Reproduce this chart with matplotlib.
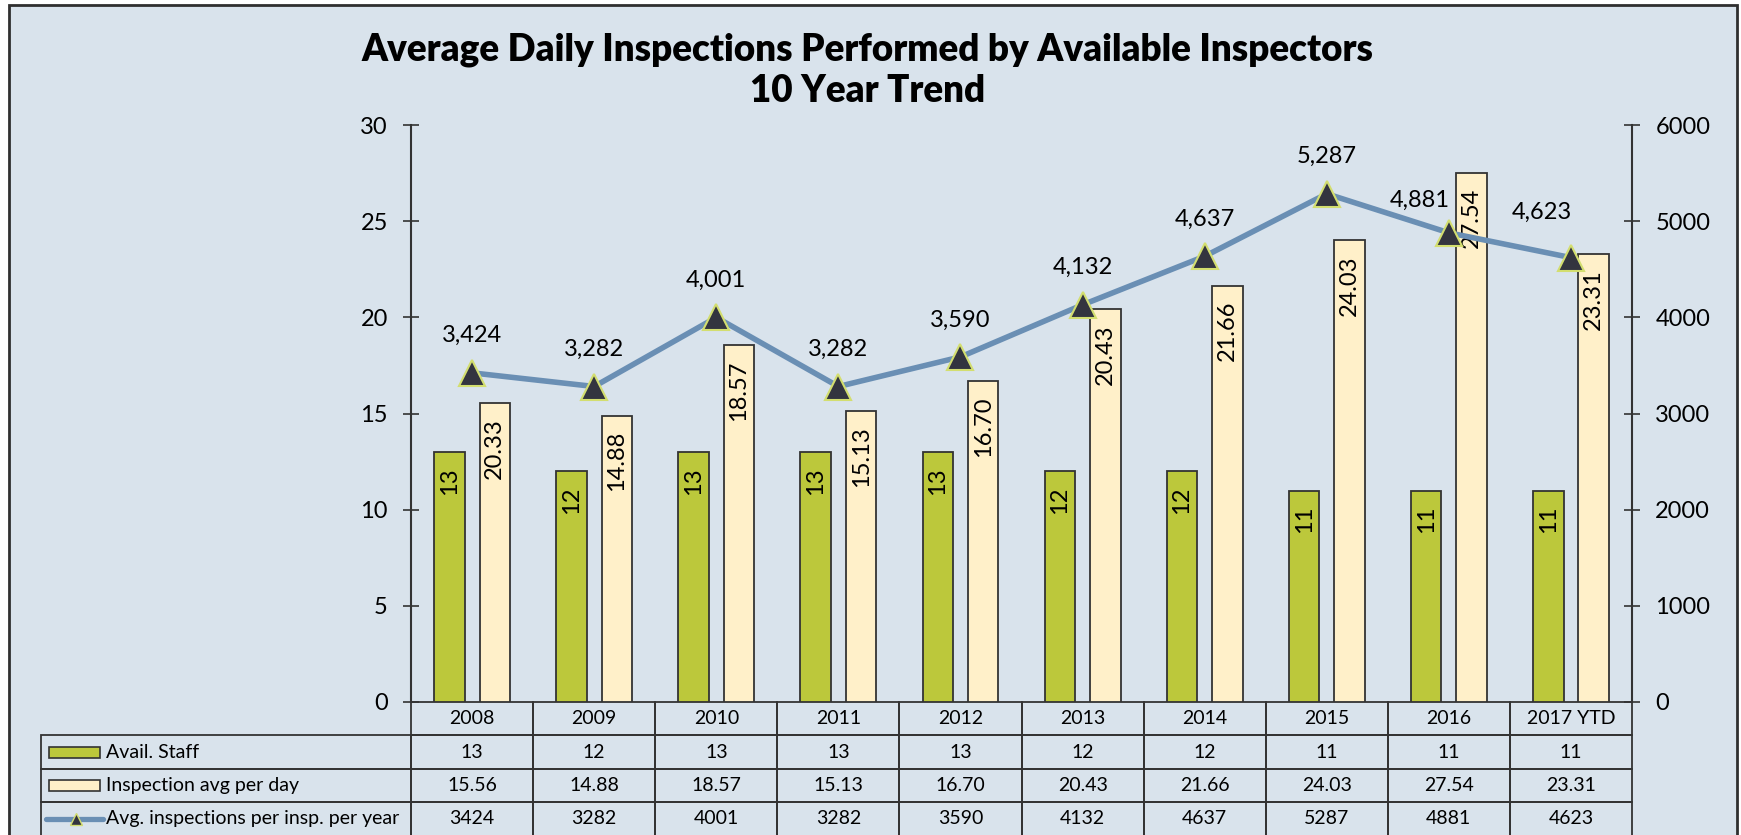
import numpy as np
import matplotlib.pyplot as plt
from matplotlib.patches import Rectangle
from matplotlib.lines import Line2D

plt.rcParams['font.family'] = ['Lato', 'DejaVu Sans']

years = ['2008', '2009', '2010', '2011', '2012', '2013', '2014', '2015', '2016', '2017 YTD']
staff = [13, 12, 13, 13, 13, 12, 12, 11, 11, 11]
per_day = [15.56, 14.88, 18.57, 15.13, 16.70, 20.43, 21.66, 24.03, 27.54, 23.31]
per_day_labels = [20.33, 14.88, 18.57, 15.13, 16.70, 20.43, 21.66, 24.03, 27.54, 23.31]  # як надруковано на стовпчиках
per_year = [3424, 3282, 4001, 3282, 3590, 4132, 4637, 5287, 4881, 4623]
label_offsets = [(0, 22)] * 8 + [(-21, 19), (-21, 28)]  # зсув підписів лінії, пт

green = '#BCC83B'
cream = '#FFF0C9'
blue = '#6A8FB4'
dark = '#333333'
x = np.arange(len(years))

fig = plt.figure(figsize=(17.41, 8.35), dpi=100)
fig.add_artist(Rectangle((0.0052, -0.01), 0.9925, 1.004, transform=fig.transFigure,
                         facecolor='#D9E3EC', edgecolor='#2f2f2f', linewidth=2, zorder=-1))

plt.figtext(0.4985, 0.9281, 'Average Daily Inspections Performed by Available Inspectors',
            ha='center', va='baseline', fontsize=26.5, fontweight='heavy')
plt.figtext(0.4985, 0.8778, '10 Year Trend', ha='center', va='baseline', fontsize=26.5, fontweight='heavy')

ax = plt.axes([0.2361, 0.1593, 0.7013, 0.6907], facecolor='none')
plt.bar(x - 0.186, staff, width=0.25, color=green, edgecolor=dark, linewidth=1.3)
plt.bar(x + 0.186, per_day, width=0.25, color=cream, edgecolor=dark, linewidth=1.3)
for xi, s, d, lab in zip(x, staff, per_day, per_day_labels):
    plt.annotate(str(s), (xi - 0.186, s), xytext=(0, -11), textcoords='offset points',
                 ha='center', va='top', rotation=90, fontsize=17)
    plt.annotate(f'{lab:.2f}', (xi + 0.186, d), xytext=(0, -11), textcoords='offset points',
                 ha='center', va='top', rotation=90, fontsize=17)
plt.xlim(-0.5, 9.5)
plt.ylim(0, 30)
plt.yticks(range(0, 31, 5))
plt.xticks([])
plt.tick_params(axis='y', direction='inout', length=11.5, width=1.2, labelsize=17, pad=11, color=dark)
for side in ['top', 'bottom', 'right']:
    ax.spines[side].set_visible(False)
ax.spines['left'].set_color(dark)
ax.spines['left'].set_linewidth(1.5)

# таблиця даних під графіком
rows = [['Avail. Staff'] + [str(v) for v in staff],
        ['Inspection avg per day'] + [f'{v:.2f}' for v in per_day],
        ['Avg. inspections per insp. per year'] + [str(v) for v in per_year]]
row_h = 0.2317 / 4
tab = plt.table(cellText=rows, colLabels=[''] + years, cellLoc='center',
                colWidths=[0.303] + [0.1] * 10, bbox=[-0.303, -0.2317, 1.303, 0.2317])
tab.auto_set_font_size(False)
tab.set_fontsize(14)
for (r, c), cell in tab.get_celld().items():
    cell.set_facecolor('none')
    cell.set_edgecolor(dark)
    cell.set_linewidth(1.3)
    if c == 0:
        cell.get_text().set_ha('left')
        cell.PAD = 0.1757
        if r == 0:
            cell.visible_edges = ''

# значки легенди в першій колонці
key_x0, key_x1 = -0.2965, -0.2547
for i, fc in enumerate([green, cream]):
    yc = -(i + 1.5) * row_h
    ax.add_patch(Rectangle((key_x0, yc - 0.0095), key_x1 - key_x0, 0.019, transform=ax.transAxes,
                           facecolor=fc, edgecolor=dark, linewidth=1.2, clip_on=False, zorder=5))
yc = -3.5 * row_h
ax.add_line(Line2D([-0.2990, -0.2520], [yc, yc], transform=ax.transAxes, color=blue, linewidth=3.8,
                   solid_capstyle='round', clip_on=False, zorder=5))
ax.add_line(Line2D([-0.2747], [yc], transform=ax.transAxes, marker='^', markersize=8.5,
                   markerfacecolor='#33343F', markeredgecolor='#D3DE6F', markeredgewidth=1,
                   clip_on=False, zorder=6))

ax2 = plt.twinx()
plt.plot(x, per_year, color=blue, linewidth=4, marker='^', markersize=19,
         markerfacecolor='#33343F', markeredgecolor='#D3DE6F', markeredgewidth=1.5)
for xi, v, (dx, dy) in zip(x, per_year, label_offsets):
    plt.annotate(f'{v:,}', (xi, v), xytext=(dx, dy), textcoords='offset points',
                 ha='center', va='baseline', fontsize=17)
plt.ylim(0, 6000)
plt.yticks(range(0, 6001, 1000))
plt.tick_params(axis='y', direction='inout', length=11.5, width=1.2, labelsize=17, pad=11, color=dark)
for side in ['top', 'bottom', 'left']:
    ax2.spines[side].set_visible(False)
ax2.spines['right'].set_color(dark)
ax2.spines['right'].set_linewidth(1.5)

plt.savefig('out.png', dpi=100)
